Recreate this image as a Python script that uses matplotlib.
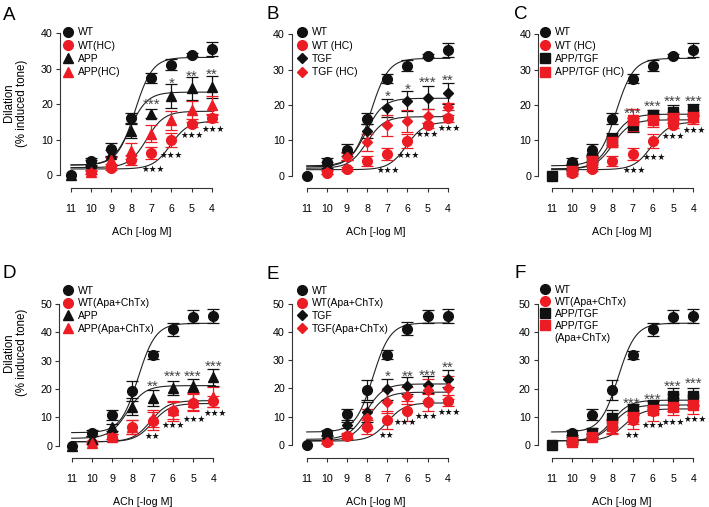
import numpy as np
import matplotlib
matplotlib.use('Agg')
import matplotlib.pyplot as plt
from matplotlib.lines import Line2D

W, H = 709, 507
RED = '#ec1c24'
BLACK = '#111111'
nan = np.nan

plt.rcParams['font.family'] = ['Liberation Sans', 'DejaVu Sans']

X = [11, 10, 9, 8, 7, 6, 5, 4]
X_LABELS = ['11', '10', '9', '8', '7', '6', '5', '4']

# --- top row (HC) ---
WT_A = [0, 3.9, 7.2, 16.1, 27.4, 31.1, 33.9, 35.6]
WT_A_ERR = [nan, 1.0, 1.7, 1.5, 1.3, 1.6, 0.4, 1.9]
WT_HC = [nan, 0.9, 1.9, 4.2, 6.1, 9.8, 14.3, 16.2]
WT_HC_ERR = [nan, 0.5, 0.6, 1.4, 1.7, 2.0, 0.7, 1.1]
APP_A = [0, 3.3, 6.0, 12.4, 17.3, 22.3, 24.5, 24.8]
APP_A_ERR = [nan, 0.8, 1.0, 2.0, 1.3, 3.3, 3.2, 3.2]
APP_HC = [nan, 0.8, 4.2, 6.7, 11.7, 15.4, 18.3, 19.7]
APP_HC_ERR = [nan, 0.4, 1.0, 2.2, 2.3, 2.6, 2.5, 2.7]
TGF_B = [0, 3.0, 5.6, 12.6, 19.1, 21.1, 22.1, 23.3]
TGF_B_ERR = [nan, 0.8, 1.2, 2.0, 2.5, 2.8, 3.2, 3.0]
TGF_HC = [nan, 1.0, 5.4, 9.4, 14.3, 15.5, 16.9, 19.5]
TGF_HC_ERR = [nan, 0.5, 1.0, 2.5, 3.0, 3.0, 2.0, 1.0]
APPTGF_C = [0, 2.5, 4.9, 10.4, 14.3, 17.2, 18.1, 18.6]
APPTGF_C_ERR = [nan, 0.8, 1.0, 1.6, 2.0, 1.3, 1.8, 1.8]
APPTGF_HC = [nan, 1.2, 4.2, 9.6, 15.8, 15.8, 16.4, 16.7]
APPTGF_HC_ERR = [nan, 0.5, 1.0, 1.5, 3.2, 2.0, 1.5, 2.0]

# --- bottom row (Apa+ChTx) ---
WT_D = [0, 4.4, 10.8, 19.4, 32.0, 41.1, 45.5, 45.8]
WT_D_ERR = [nan, 1.0, 1.8, 3.5, 1.5, 2.3, 2.3, 2.5]
WT_AC = [nan, 1.1, 3.2, 6.5, 8.7, 12.1, 15.1, 15.7]
WT_AC_ERR = [nan, 0.6, 0.8, 2.5, 3.2, 3.5, 3.0, 2.0]
APP_D = [0, 2.5, 6.5, 13.8, 16.7, 20.5, 21.1, 24.1]
APP_D_ERR = [nan, 0.8, 1.2, 3.0, 2.8, 2.5, 2.3, 3.0]
APP_AC = [nan, 1.0, 3.2, 6.5, 9.6, 12.5, 15.5, 17.3]
APP_AC_ERR = [nan, 0.5, 0.8, 2.5, 3.0, 3.0, 3.0, 3.5]
TGF_E = [0, 2.5, 7.1, 11.6, 19.7, 21.0, 21.3, 23.4]
TGF_E_ERR = [nan, 0.8, 1.2, 3.5, 3.7, 3.0, 3.0, 3.0]
TGF_AC = [nan, 1.2, 3.3, 9.4, 15.3, 17.4, 19.5, 20.3]
TGF_AC_ERR = [nan, 0.5, 1.0, 3.5, 4.0, 3.0, 4.0, 4.0]
APPTGF_F = [0, 2.0, 4.4, 9.4, 12.6, 14.1, 17.3, 17.3]
APPTGF_F_ERR = [nan, 0.8, 1.5, 3.0, 2.0, 1.5, 3.0, 3.0]
APPTGF_AC = [nan, 1.0, 3.0, 6.8, 10.0, 12.4, 13.5, 14.1]
APPTGF_AC_ERR = [nan, 0.5, 0.8, 2.5, 2.5, 1.0, 3.0, 3.0]

# fitted curves: (bottom, top, pEC50), hill slope 1
FIT_WT_A = (2.8, 33.2, 7.82)
FIT_WT_HC = (1.7, 15.2, 6.05)
FIT_APP_A = (2.8, 23.4, 8.07)
FIT_APP_HC = (2.1, 18.0, 7.24)
FIT_TGF_B = (2.5, 21.9, 8.07)
FIT_TGF_HC = (2.1, 16.7, 8.02)
FIT_APPTGF_C = (1.9, 17.4, 8.05)
FIT_APPTGF_HC = (1.9, 15.8, 7.98)
FIT_WT_D = (4.6, 43.2, 7.72)
FIT_WT_AC = (1.4, 14.9, 7.0)
FIT_APP_D = (2.6, 21.2, 8.25)
FIT_APP_AC = (1.4, 15.9, 7.1)
FIT_TGF_E = (2.0, 21.6, 8.05)
FIT_TGF_AC = (1.5, 18.7, 7.93)
FIT_APPTGF_F = (1.5, 15.9, 8.0)
FIT_APPTGF_AC = (1.5, 14.2, 7.95)
FIT_WT_AC_F = (1.5, 12.8, 7.4)

# significance marks: (x, y, text)
UP_A = [(7, 21.3, '***'), (6, 27.2, '*'), (5, 29.0, '**'), (4, 29.8, '**')]
DN_A = [(6.9, 1.7, 3), (6.0, 5.6, 3), (5.0, 11.5, 3), (3.95, 13.1, 3)]
UP_B = [(7, 23.6, '*'), (6, 25.7, '*'), (5, 27.7, '***'), (4, 28.3, '**')]
DN_B = [(6.94, 1.6, 3), (5.95, 5.8, 3), (5.0, 12.0, 3), (3.95, 13.7, 3)]
UP_C = [(7, 18.9, '***'), (6, 20.8, '***'), (5, 22.4, '***'), (4, 22.4, '***')]
DN_C = [(6.92, 1.6, 3), (5.95, 5.4, 3), (4.98, 11.3, 3), (3.95, 12.9, 3)]
UP_D = [(7, 22.5, '**'), (6, 26.1, '***'), (5, 26.1, '***'), (4, 29.6, '***')]
DN_D = [(7, 3.5, 2), (6.0, 7.3, 3), (4.95, 9.6, 3), (3.9, 11.6, 3)]
UP_E = [(7, 26.0, '*'), (6, 26.0, '**'), (5, 26.3, '***'), (4, 28.9, '**')]
DN_E = [(7.05, 3.5, 2), (6.1, 8.3, 3), (5.05, 10.3, 3), (3.95, 11.8, 3)]
UP_F = [(7.05, 16.5, '***'), (6, 17.9, '***'), (5, 22.4, '***'), (4, 23.5, '***')]
DN_F = [(7, 3.5, 2), (5.98, 7.1, 3), (4.99, 8.2, 3), (3.92, 9.4, 3)]


def make_axes(fig, spine, x11, x4, y0, ytop, ymax, xaxis):
    # all arguments in figure pixels (from top-left)
    ppx = (x4 - x11) / 7.0
    ppy = (y0 - ytop) / ymax
    right = x4 + 12
    xlim = (11 + (x11 - spine) / ppx, 4 - 12 / ppx)
    ylim = (-(xaxis - y0) / ppy, ymax * 1.08)
    top = y0 - ylim[1] * ppy
    ax = fig.add_axes([spine / W, 1 - xaxis / H, (right - spine) / W, (xaxis - top) / H])
    ax.set_xlim(*xlim)
    ax.set_ylim(*ylim)
    ax.patch.set_alpha(0)
    for s in ['top', 'right']:
        ax.spines[s].set_visible(False)
    ax.spines['left'].set_bounds(0, ymax)
    ax.spines['bottom'].set_bounds(11, 4)
    for s in ['left', 'bottom']:
        ax.spines[s].set_linewidth(0.8)
        ax.spines[s].set_color('#333333')
    ax.set_xticks(X)
    ax.set_xticklabels(X_LABELS)
    ax.set_yticks(np.arange(0, ymax + 1, 10))
    ax.tick_params(axis='both', direction='out', length=3.2, width=0.8,
                   color='#333333', labelsize=7.7)
    ax.tick_params(axis='x', pad=8)
    ax.tick_params(axis='y', pad=2)
    ax.set_xlabel('ACh [-log M]', fontsize=7.7, labelpad=10)
    return ax


def draw_series(ax, y, err, fit, color, marker, ms):
    xf = np.linspace(11, 3.9, 300)
    b, t, p = fit
    ax.plot(xf, b + (t - b) / (1 + 10 ** (xf - p)), color='#222222', lw=0.8, zorder=1)
    ax.errorbar(X, y, yerr=err, fmt=marker, color=color, ms=ms, capsize=4.3,
                elinewidth=0.9, capthick=0.9, clip_on=False, zorder=3)


def draw_marks(ax, up, dn):
    for x, y, s in up:
        ax.annotate(s, (x, y), xytext=(0, -6.4), textcoords='offset points',
                    ha='center', va='baseline', fontsize=11, color='#444444')
    for x, y, n in dn:
        ax.annotate('\u2605' * n, (x, y), xytext=(0, -2.3), textcoords='offset points',
                    ha='center', va='baseline', fontsize=6.2, color=BLACK,
                    family='DejaVu Sans')


def draw_legend(ax, fig, entries, mx, my, spacing):
    handles = []
    labels = []
    for label, c, m, ms in entries:
        # second line of a two-line label gets an empty handle
        for i, part in enumerate(label.split('\n')):
            if i == 0:
                handles.append(Line2D([], [], ls='none', marker=m, color=c, ms=ms))
            else:
                handles.append(Line2D([], [], ls='none', marker=None))
            labels.append(part)
    ax.legend(handles, labels, loc='upper left',
              bbox_to_anchor=((mx - 4.2) / W, 1 - (my - 7) / H),
              bbox_transform=fig.transFigure, frameon=False, fontsize=7.5,
              handlelength=0.8, handletextpad=0.55, labelspacing=spacing,
              borderpad=0, borderaxespad=0)


fig = plt.figure(figsize=(W / 100, H / 100), dpi=100)

panels = [
    dict(letter='A', lx=3, ly=20, box=(60, 71, 211.7, 175, 33.3, 40, 188), up=UP_A, dn=DN_A,
         leg=(67.7, 34.3, 0.32),
         series=[('WT', WT_A, WT_A_ERR, FIT_WT_A, BLACK, 'o', 7),
                 ('WT(HC)', WT_HC, WT_HC_ERR, FIT_WT_HC, RED, 'o', 7),
                 ('APP', APP_A, APP_A_ERR, FIT_APP_A, BLACK, '^', 7.3),
                 ('APP(HC)', APP_HC, APP_HC_ERR, FIT_APP_HC, RED, '^', 7.3)]),
    dict(letter='B', lx=267, ly=19, box=(292, 306.7, 447.7, 175.7, 34.3, 40, 188), up=UP_B, dn=DN_B,
         leg=(301.7, 34.3, 0.32),
         series=[('WT', WT_A, WT_A_ERR, FIT_WT_A, BLACK, 'o', 7),
                 ('WT (HC)', WT_HC, WT_HC_ERR, FIT_WT_HC, RED, 'o', 7),
                 ('TGF', TGF_B, TGF_B_ERR, FIT_TGF_B, BLACK, 'D', 5.3),
                 ('TGF (HC)', TGF_HC, TGF_HC_ERR, FIT_TGF_HC, RED, 'D', 5.3)]),
    dict(letter='C', lx=514, ly=19, box=(538.3, 551.7, 693.3, 175.7, 34.3, 40, 188), up=UP_C, dn=DN_C,
         leg=(545, 34.3, 0.32),
         series=[('WT', WT_A, WT_A_ERR, FIT_WT_A, BLACK, 'o', 7),
                 ('WT (HC)', WT_HC, WT_HC_ERR, FIT_WT_HC, RED, 'o', 7),
                 ('APP/TGF', APPTGF_C, APPTGF_C_ERR, FIT_APPTGF_C, BLACK, 's', 6.6),
                 ('APP/TGF (HC)', APPTGF_HC, APPTGF_HC_ERR, FIT_APPTGF_HC, RED, 's', 6.6)]),
    dict(letter='D', lx=2, ly=278, box=(59.3, 71.7, 213.3, 445.7, 304, 50, 458), up=UP_D, dn=DN_D,
         leg=(67.7, 292.7, 0.26),
         series=[('WT', WT_D, WT_D_ERR, FIT_WT_D, BLACK, 'o', 7),
                 ('WT(Apa+ChTx)', WT_AC, WT_AC_ERR, FIT_WT_AC, RED, 'o', 7),
                 ('APP', APP_D, APP_D_ERR, FIT_APP_D, BLACK, '^', 7.3),
                 ('APP(Apa+ChTx)', APP_AC, APP_AC_ERR, FIT_APP_AC, RED, '^', 7.3)]),
    dict(letter='E', lx=266, ly=279, box=(292, 306.7, 447.7, 445, 303.7, 50, 458), up=UP_E, dn=DN_E,
         leg=(301.7, 292.7, 0.26),
         series=[('WT', WT_D, WT_D_ERR, FIT_WT_D, BLACK, 'o', 7),
                 ('WT(Apa+ChTx)', WT_AC, WT_AC_ERR, FIT_WT_AC, RED, 'o', 7),
                 ('TGF', TGF_E, TGF_E_ERR, FIT_TGF_E, BLACK, 'D', 5.3),
                 ('TGF(Apa+ChTx)', TGF_AC, TGF_AC_ERR, FIT_TGF_AC, RED, 'D', 5.3)]),
    dict(letter='F', lx=514, ly=278, box=(537.7, 551.7, 693.3, 445, 304, 50, 458), up=UP_F, dn=DN_F,
         leg=(545, 291.7, 0.2),
         series=[('WT', WT_D, WT_D_ERR, FIT_WT_D, BLACK, 'o', 7),
                 ('WT(Apa+ChTx)', WT_AC, WT_AC_ERR, FIT_WT_AC_F, RED, 'o', 7),
                 ('APP/TGF', APPTGF_F, APPTGF_F_ERR, FIT_APPTGF_F, BLACK, 's', 6.6),
                 ('APP/TGF\n(Apa+ChTx)', APPTGF_AC, APPTGF_AC_ERR, FIT_APPTGF_AC, RED, 's', 6.6)]),
]

for p in panels:
    ax = make_axes(fig, *p['box'])
    for label, y, err, fit, color, marker, ms in p['series']:
        draw_series(ax, y, err, fit, color, marker, ms)
    draw_marks(ax, p['up'], p['dn'])
    mx, my, sp = p['leg']
    draw_legend(ax, fig, [(s[0], s[4], s[5], s[6]) for s in p['series']], mx, my, sp)
    fig.text(p['lx'] / W, 1 - p['ly'] / H, p['letter'], fontsize=13.5, ha='left', va='baseline')

for yc in [103, 352.5]:
    fig.text(15.5 / W, 1 - yc / H, 'Dilation\n(% induced tone)', rotation=90,
             ha='center', va='center', multialignment='center', fontsize=8.3)

fig.savefig('out.png', dpi=100)
